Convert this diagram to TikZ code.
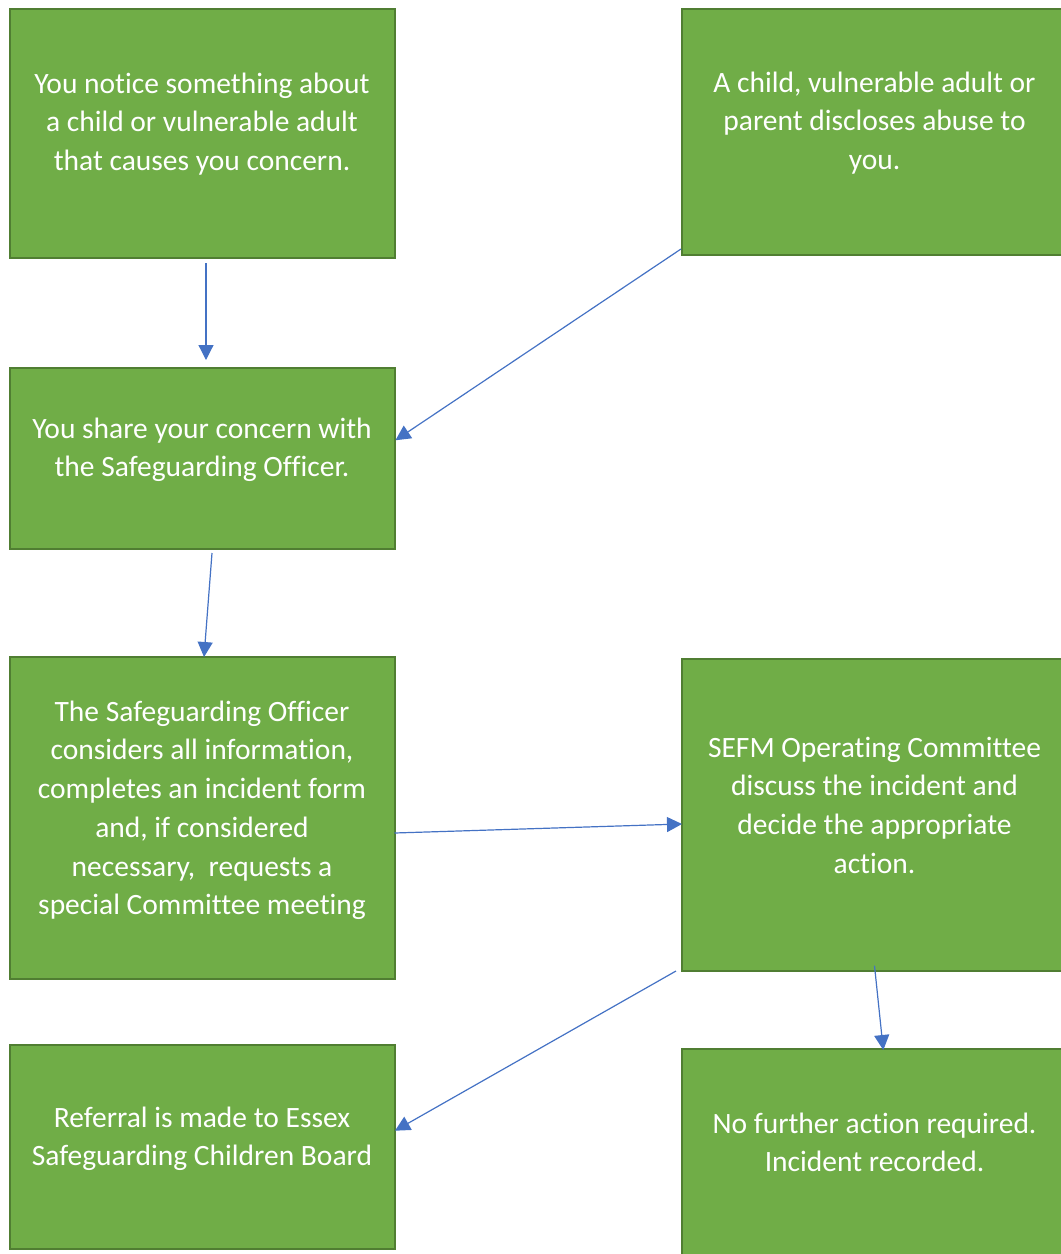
\documentclass[tikz,border=0pt]{standalone}
\usepackage{fontspec}
\setmainfont{Carlito}[Ligatures={NoCommon,NoRare,NoContextual}]
\usetikzlibrary{arrows.meta,calc}
\definecolor{boxgreen}{HTML}{70AD47}
\definecolor{boxedge}{HTML}{507E32}
\definecolor{arrowblue}{HTML}{4472C4}
\begin{document}
\begin{tikzpicture}[x=1pt,y=-1pt,
  box/.style={draw=boxedge, line width=2pt, fill=boxgreen, rectangle, inner sep=0pt, outer sep=0pt, minimum width=385pt},
  txt/.style={text=white, align=center, inner sep=0pt, anchor=north, font=\fontsize{29.5}{38.7}\selectfont},
  arr/.style={draw=arrowblue, line width=1.2pt, -{Triangle[length=15pt,width=15pt]}}]
\useasboundingbox (0,0) rectangle (1061,1254);
\begin{scope}
\clip (0,0) rectangle (1061,1254);
\node[box, minimum height=249pt] (b1) at (202,133.5) {};
\node[box, minimum height=246pt] (b2) at (874.5,132) {};
\node[box, minimum height=181.5pt] (b3) at (202,458.25) {};
\node[box, minimum height=322pt] (b4) at (202,818) {};
\node[box, minimum height=312pt] (b5) at (874.5,815) {};
\node[box, minimum height=204pt] (b6) at (202,1147) {};
\node[box, minimum height=211pt] (b7) at (874.5,1154.5) {};

\node[txt] (t1) at (202,65.9) {\strut You notice something about\\ a child or vulnerable adult\\ that causes you concern.};
\node[txt] (t2) at (874.5,64.9) {\strut A child, vulnerable adult or\\ parent discloses abuse to\\ you.};
\node[txt] (t3) at (202,410.9) {\strut You share your concern with\\ the Safeguarding Officer.};
\node[txt] (t4) at (202,693.9) {\strut The Safeguarding Officer\\ considers all information,\\ completes an incident form\\ and, if considered\\ necessary,\ \ requests a\\ special Committee meeting};
\node[txt] (t5) at (874.5,729.9) {\strut SEFM Operating Committee\\ discuss the incident and\\ decide the appropriate\\ action.};
\node[txt] (t6) at (202,1099.9) {\strut Referral is made to Essex\\ Safeguarding Children Board};
\node[txt] (t7) at (874.5,1105.9) {\strut No further action required.\\ Incident recorded.};

\draw[arr] ($(b1.south)+(4,5)$) -- ($(b3.north)+(4,-7.5)$);
\draw[arr] ($(b2.south west)+(-1,-6)$) -- ($(b3.east)+(1,-18)$);
\draw[arr] ($(b3.south)+(10,4)$) -- ($(b4.north)+(2,0)$);
\draw[arr] ($(b4.east)+(0,15)$) -- ($(b5.west)+(0,9)$);
\draw[arr] ($(b5.south west)+(-6,0)$) -- ($(b6.east)+(0.5,-16.3)$);
\draw[arr] ($(b5.south)+(0,-5.3)$) -- ($(b7.north)+(8.8,1)$);
\end{scope}
\end{tikzpicture}
\end{document}
